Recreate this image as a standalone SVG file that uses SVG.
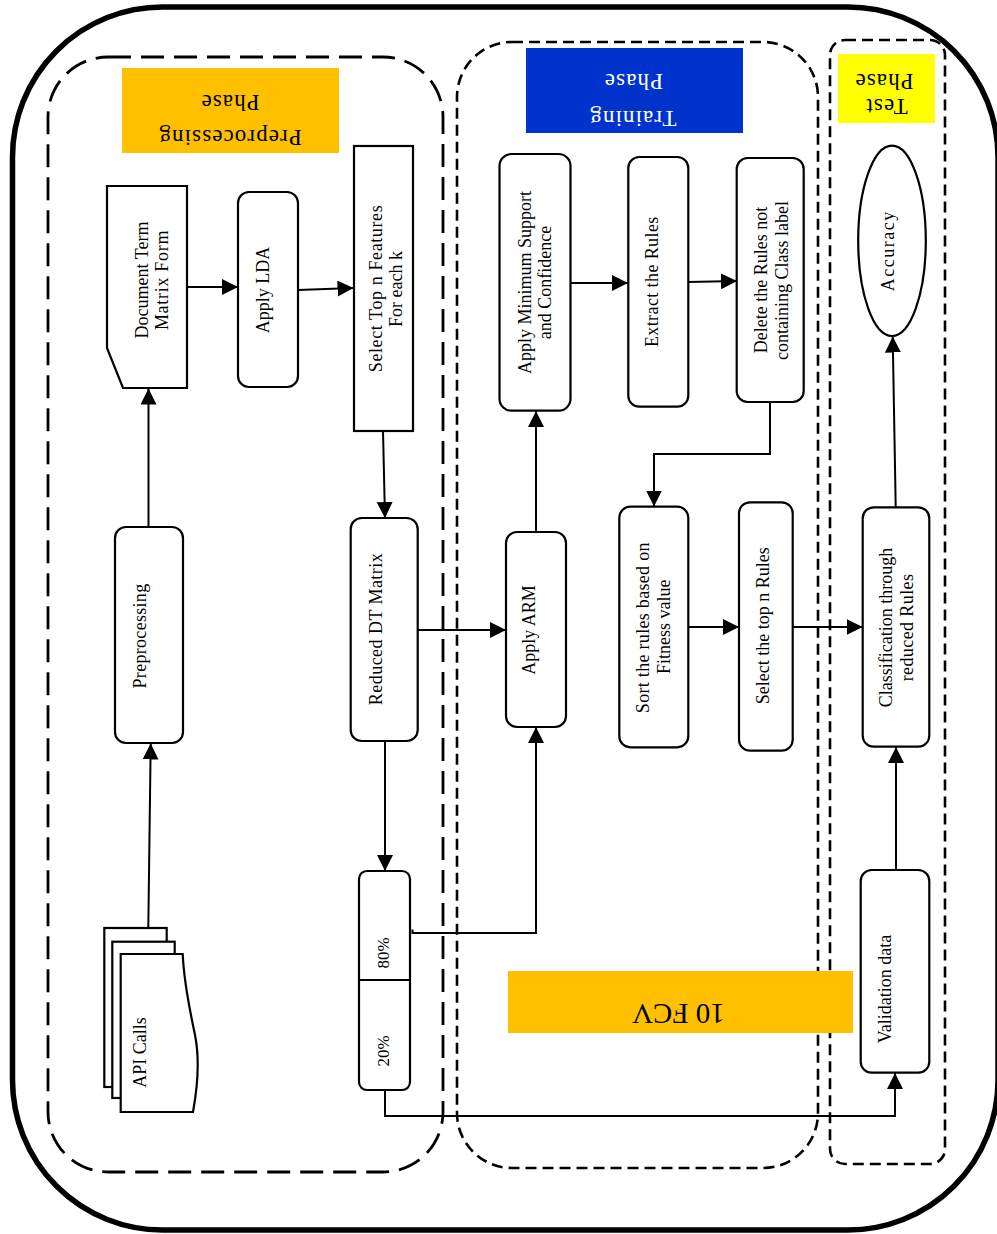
<svg xmlns="http://www.w3.org/2000/svg" width="997" height="1234" viewBox="0 0 997 1234">
  <defs>
    <marker id="arrow" markerUnits="userSpaceOnUse" markerWidth="17" markerHeight="17" refX="16" refY="8" orient="auto">
      <path d="M0,0 L16,8 L0,16 Z" fill="#000"/>
    </marker>
    <style>
      .frame{fill:none;stroke:#000;stroke-width:5.5}
      .zone{fill:none;stroke:#000;stroke-width:2.8}
      .zone-long{stroke-dasharray:23 10}
      .zone-short{stroke-dasharray:11 6;stroke-width:2.6}
      .box{fill:#fff;stroke:#000;stroke-width:2.2}
      .lbl{font-family:"Liberation Serif","Times New Roman",serif;font-size:18px;fill:#000}
      .phase{font-family:"Liberation Serif","Times New Roman",serif;font-size:23px;letter-spacing:1.1px;fill:#000}
      .wire{fill:none;stroke:#000;stroke-width:2}
      .arr{marker-end:url(#arrow)}
    </style>
  </defs>

  <rect width="997" height="1234" fill="#fff"/>

  <!-- outer frame -->
  <rect class="frame" x="12.5" y="7" width="985.5" height="1223" rx="150" ry="150"/>

  <!-- phase containers -->
  <g id="zone-preprocessing">
    <rect class="zone zone-long" x="48" y="57" width="395" height="1115" rx="60" ry="60"/>
  </g>
  <g id="zone-training">
    <rect class="zone zone-short" x="457" y="42" width="361" height="1126" rx="55" ry="55"/>
  </g>
  <g id="zone-test">
    <rect class="zone zone-short" x="830" y="40" width="115" height="1124" rx="15" ry="15"/>
  </g>

  <!-- phase captions (printed upside down) -->
  <g id="caption-preprocessing">
    <rect x="122" y="68" width="217" height="85" fill="#FFC000"/>
    <text class="phase" x="230" y="94.5" text-anchor="middle" transform="rotate(180 230 94.5)">Phase</text>
    <text class="phase" x="230" y="130" text-anchor="middle" transform="rotate(180 230 130)">Preprocessing</text>
  </g>
  <g id="caption-training">
    <rect x="526" y="48" width="217" height="85" fill="#0033CC"/>
    <text class="phase" x="633.3" y="73.5" text-anchor="middle" transform="rotate(180 633.3 73.5)" style="fill:#fff">Phase</text>
    <text class="phase" x="632.8" y="110.7" text-anchor="middle" transform="rotate(180 632.8 110.7)" style="fill:#fff">Training</text>
  </g>
  <g id="caption-test">
    <rect x="838" y="54" width="97" height="69" fill="#FFFF00"/>
    <text class="phase" x="884" y="73.5" text-anchor="middle" transform="rotate(180 884 73.5)">Phase</text>
    <text class="phase" x="886.5" y="99" text-anchor="middle" transform="rotate(180 886.5 99)">Test</text>
  </g>
  <g id="caption-fcv">
    <rect x="508" y="971" width="345" height="62" fill="#FFC000"/>
    <text class="phase" x="678.3" y="1003.5" text-anchor="middle" transform="rotate(180 678.3 1003.5)" style="font-size:29px;letter-spacing:0">10 FCV</text>
  </g>

  <!-- connectors -->
  <g id="connectors">
    <path class="wire arr" d="M148.3,928 L150.7,743.5"/>
    <path class="wire arr" d="M148.5,527 L148.5,388.5"/>
    <path class="wire arr" d="M187,287 L238,287"/>
    <path class="wire arr" d="M298,290 L353.5,288"/>
    <path class="wire arr" d="M383,431 L385,518"/>
    <path class="wire arr" d="M385,741 L385,871"/>
    <path class="wire arr" d="M418,630 L506,630"/>
    <path class="wire arr" d="M412.5,929.5 V933 H536 V727"/>
    <path class="wire arr" d="M385,1090 V1116 H895 V1073"/>
    <path class="wire arr" d="M536,532 L536,411"/>
    <path class="wire arr" d="M571,283 L628,283"/>
    <path class="wire arr" d="M688,282 L737,281"/>
    <path class="wire arr" d="M770,402 V454 H654 V506.5"/>
    <path class="wire arr" d="M688,627 L739,627"/>
    <path class="wire arr" d="M793,627 L862.7,627"/>
    <path class="wire arr" d="M896,870 L896,747"/>
    <path class="wire arr" d="M895.7,507 L892.7,336.5"/>
  </g>

  <!-- preprocessing nodes -->
  <g id="api-calls">
    <rect class="box" x="104.3" y="928" width="62.4" height="159"/>
    <rect class="box" x="112.3" y="941.7" width="62.4" height="156.3"/>
    <path class="box" d="M120.7,954 H182.7 C184,985 190,1010 195,1035 C200,1060 197,1090 193,1112 H120.7 Z"/>
    <text class="lbl" text-anchor="middle" transform="translate(145.5 1052.5) rotate(-90)">API Calls</text>
  </g>
  <g id="preprocessing">
    <rect class="box" x="115" y="527" width="68" height="216" rx="11" ry="11"/>
    <text class="lbl" text-anchor="middle" transform="translate(145.5 636) rotate(-90)" style="letter-spacing:0.3px">Preprocessing</text>
  </g>
  <g id="document-term-matrix">
    <path class="box" d="M107,186 H187 V388 H123 L107,348 Z"/>
    <text class="lbl" text-anchor="middle" transform="translate(148 280) rotate(-90)">Document Term</text>
    <text class="lbl" text-anchor="middle" transform="translate(168 280) rotate(-90)" style="letter-spacing:0.7px">Matrix Form</text>
  </g>
  <g id="apply-lda">
    <rect class="box" x="238" y="192" width="60" height="195" rx="11" ry="11"/>
    <text class="lbl" text-anchor="middle" transform="translate(268.6 290) rotate(-90)">Apply LDA</text>
  </g>
  <g id="select-top-features">
    <rect class="box" x="354" y="146" width="59" height="285"/>
    <text class="lbl" text-anchor="middle" transform="translate(382 288.5) rotate(-90)" style="letter-spacing:0.6px">Select Top n Features</text>
    <text class="lbl" text-anchor="middle" transform="translate(402 289) rotate(-90)">For each k</text>
  </g>
  <g id="reduced-dt-matrix">
    <rect class="box" x="350.7" y="518" width="67" height="223" rx="11" ry="11"/>
    <text class="lbl" text-anchor="middle" transform="translate(382 629) rotate(-90)" style="letter-spacing:0.45px">Reduced DT Matrix</text>
  </g>
  <g id="data-split">
    <rect class="box" x="359" y="871" width="51" height="219" rx="8" ry="8"/>
    <line x1="359" y1="980" x2="410" y2="980" stroke="#000" stroke-width="2"/>
    <text class="lbl" text-anchor="middle" transform="translate(389 953) rotate(-90)" style="font-size:17px">80%</text>
    <text class="lbl" text-anchor="middle" transform="translate(389 1051) rotate(-90)" style="font-size:17px">20%</text>
  </g>

  <!-- training nodes -->
  <g id="apply-arm">
    <rect class="box" x="506" y="532" width="60" height="195" rx="11" ry="11"/>
    <text class="lbl" text-anchor="middle" transform="translate(535.3 630) rotate(-90)">Apply ARM</text>
  </g>
  <g id="apply-min-support">
    <rect class="box" x="499.5" y="154" width="71" height="256.7" rx="12" ry="12"/>
    <text class="lbl" text-anchor="middle" transform="translate(530.5 282.5) rotate(-90)">Apply Minimum Support</text>
    <text class="lbl" text-anchor="middle" transform="translate(550.5 282.5) rotate(-90)">and Confidence</text>
  </g>
  <g id="extract-rules">
    <rect class="box" x="628.3" y="157" width="60" height="249.7" rx="11" ry="11"/>
    <text class="lbl" text-anchor="middle" transform="translate(658 281.7) rotate(-90)" style="letter-spacing:0.4px">Extract the Rules</text>
  </g>
  <g id="delete-rules">
    <rect class="box" x="736.7" y="158" width="67" height="244" rx="11" ry="11"/>
    <text class="lbl" text-anchor="middle" transform="translate(767 280) rotate(-90)">Delete the Rules not</text>
    <text class="lbl" text-anchor="middle" transform="translate(787.5 280.5) rotate(-90)">containing Class label</text>
  </g>
  <g id="sort-rules">
    <rect class="box" x="619.3" y="506.7" width="69" height="240.6" rx="11" ry="11"/>
    <text class="lbl" text-anchor="middle" transform="translate(648.7 627.7) rotate(-90)" style="letter-spacing:0.3px">Sort the rules based on</text>
    <text class="lbl" text-anchor="middle" transform="translate(670.3 626.7) rotate(-90)">Fitness value</text>
  </g>
  <g id="select-top-rules">
    <rect class="box" x="739" y="502.3" width="53.7" height="248.4" rx="11" ry="11"/>
    <text class="lbl" text-anchor="middle" transform="translate(768.7 625.8) rotate(-90)">Select the top n Rules</text>
  </g>

  <!-- test nodes -->
  <g id="classification">
    <rect class="box" x="862.7" y="507.3" width="66.6" height="239.4" rx="11" ry="11"/>
    <text class="lbl" text-anchor="middle" transform="translate(892 627.5) rotate(-90)">Classification through</text>
    <text class="lbl" text-anchor="middle" transform="translate(912.7 627.5) rotate(-90)" style="letter-spacing:0.4px">reduced Rules</text>
  </g>
  <g id="validation-data">
    <rect class="box" x="860.7" y="870" width="68.6" height="202.7" rx="11" ry="11"/>
    <text class="lbl" text-anchor="middle" transform="translate(891.3 989) rotate(-90)">Validation data</text>
  </g>
  <g id="accuracy">
    <ellipse class="box" cx="892" cy="240.8" rx="33.8" ry="95.2"/>
    <text class="lbl" text-anchor="middle" transform="translate(893.7 250.8) rotate(-90)" style="letter-spacing:1.5px">Accuracy</text>
  </g>
</svg>
